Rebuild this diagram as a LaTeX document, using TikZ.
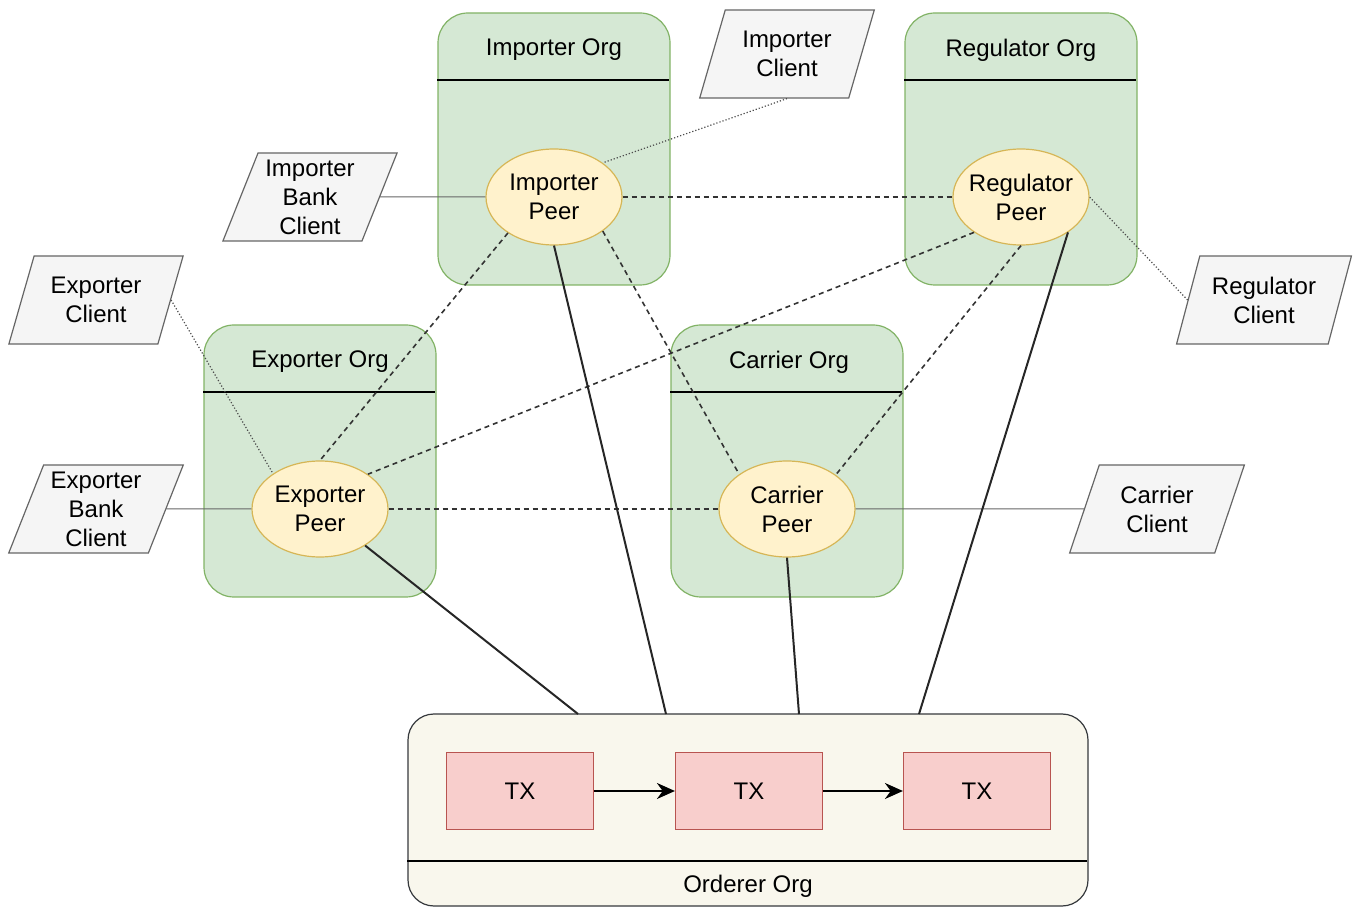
\documentclass[tikz,border=0pt]{standalone}
\usepackage{fontspec}
\setmainfont{Liberation Sans}
\usepackage{tikz}
\usetikzlibrary{shapes.geometric,arrows.meta}

\definecolor{orgfill}{HTML}{D5E8D4}
\definecolor{orgline}{HTML}{82B366}
\definecolor{peerfill}{HTML}{FFF2CC}
\definecolor{peerline}{HTML}{D6B656}
\definecolor{clientfill}{HTML}{F5F5F5}
\definecolor{clientline}{HTML}{666666}
\definecolor{txfill}{HTML}{F8CECC}
\definecolor{txline}{HTML}{B85450}
\definecolor{ordfill}{HTML}{F9F7ED}
\definecolor{ordline}{HTML}{36393D}

\tikzset{
    orgbox/.style={draw=orgline, fill=orgfill, line width=0.6pt, rounded corners=15pt,
                   minimum width=116pt, minimum height=136pt, inner sep=0pt},
    peer/.style={ellipse, draw=peerline, fill=peerfill, line width=0.6pt, align=center,
                 minimum width=68pt, minimum height=48pt, inner xsep=-4pt, inner ysep=0pt},
    client/.style={trapezium, trapezium left angle=68, trapezium right angle=112,
                   trapezium stretches=true, draw=clientline, fill=clientfill, line width=0.6pt,
                   align=center, minimum width=87.5pt, minimum height=44pt, inner sep=0pt},
    txbox/.style={draw=txline, fill=txfill, line width=0.6pt, minimum width=73.5pt, minimum height=38.5pt},
    gossip/.style={draw=black!80, line width=0.8pt, dash pattern=on 2.5pt off 2pt},
    order/.style={draw=black!85, line width=1pt},
    link/.style={draw=clientline, line width=0.5pt},
    weblink/.style={draw=black!70, line width=0.6pt, densely dotted},
}

\begin{document}
\begin{tikzpicture}[x=0.5pt, y=-0.5pt, font=\fontsize{12}{14.5}\selectfont]
    \useasboundingbox (0,0) rectangle (1355,908);

    % Organisations
    \node (imporg) [orgbox] at (554,149) {};
    \node (regorg) [orgbox] at (1021,149) {};
    \node (exporg) [orgbox] at (320,461) {};
    \node (carorg) [orgbox] at (787,461) {};
    \draw [line width=1pt] (imporg.north west) ++(0,68) -- ++(232,0);
    \draw [line width=1pt] (regorg.north west) ++(0,68) -- ++(232,0);
    \draw [line width=1pt] (exporg.north west) ++(0,68) -- ++(232,0);
    \draw [line width=1pt] (carorg.north west) ++(0,68) -- ++(232,0);
    \node (imporgname) at (554,50) {Importer Org};
    \node (regorgname) at (1021,50) {Regulator Org};
    \node (exporgname) at (320,362) {Exporter Org};
    \node (carorgname) at (789,362) {Carrier Org};

    % Orderer with its chain of transactions
    \node (ord) [draw=ordline, fill=ordfill, line width=0.6pt, rounded corners=13pt,
                 minimum width=340pt, minimum height=96pt] at (748,810) {};
    \draw [line width=1pt] (ord.south west) ++(0,-46) -- ++(680,0);
    \node (ordname) at (748,886) {Orderer Org};
    \node (tx1) [txbox] at (520,791) {TX};
    \node (tx2) [txbox] at (749,791) {TX};
    \node (tx3) [txbox] at (977,791) {TX};
    \draw [-{Stealth[length=9pt,width=8pt]}, line width=0.9pt] (tx1) -- (tx2);
    \draw [-{Stealth[length=9pt,width=8pt]}, line width=0.9pt] (tx2) -- (tx3);

    % Peers
    \node (imp) [peer] at (554,197) {Importer\\Peer};
    \node (reg) [peer] at (1021,197) {Regulator\\Peer};
    \node (exp) [peer] at (320,509) {Exporter\\Peer};
    \node (car) [peer] at (787,509) {Carrier\\Peer};

    % Clients
    \node (ic) [client] at (787,54) {Importer\\Client};
    \node (ibc) [client] at (310,197) {Importer\\Bank\\Client};
    \node (ec) [client] at (96,300) {Exporter\\Client};
    \node (ebc) [client] at (96,509) {Exporter\\Bank\\Client};
    \node (rc) [client] at (1264,300) {Regulator\\Client};
    \node (cc) [client] at (1157,509) {Carrier\\Client};

    % Client links
    \draw [link] (ibc.east) -- (imp.west);
    \draw [link] (ebc.east) -- (exp.west);
    \draw [link] (car.east) -- (cc.west);
    \draw [weblink] (ic.south) -- (imp.35);
    \draw [weblink] (ec.east) -- (exp.143);
    \draw [weblink] (rc.west) -- (reg.east);

    % Peer to peer
    \draw [gossip] (imp.east) -- (reg.west);
    \draw [gossip] (imp.218) -- (exp.north);
    \draw [gossip] (imp.325) -- (car.144);
    \draw [gossip] (reg.217) -- (exp.36);
    \draw [gossip] (reg.south) -- (car.35);
    \draw [gossip] (exp.east) -- (car.west);

    % Peers to orderer
    \coordinate (o1) at (578,714);
    \coordinate (o2) at (666,714);
    \coordinate (o3) at (799,714);
    \coordinate (o4) at (919,714);
    \draw [order] (exp.321) -- (o1);
    \draw [order] (imp.south) -- (o2);
    \draw [order] (car.south) -- (o3);
    \draw [order] (reg.323) -- (o4);
\end{tikzpicture}
\end{document}
